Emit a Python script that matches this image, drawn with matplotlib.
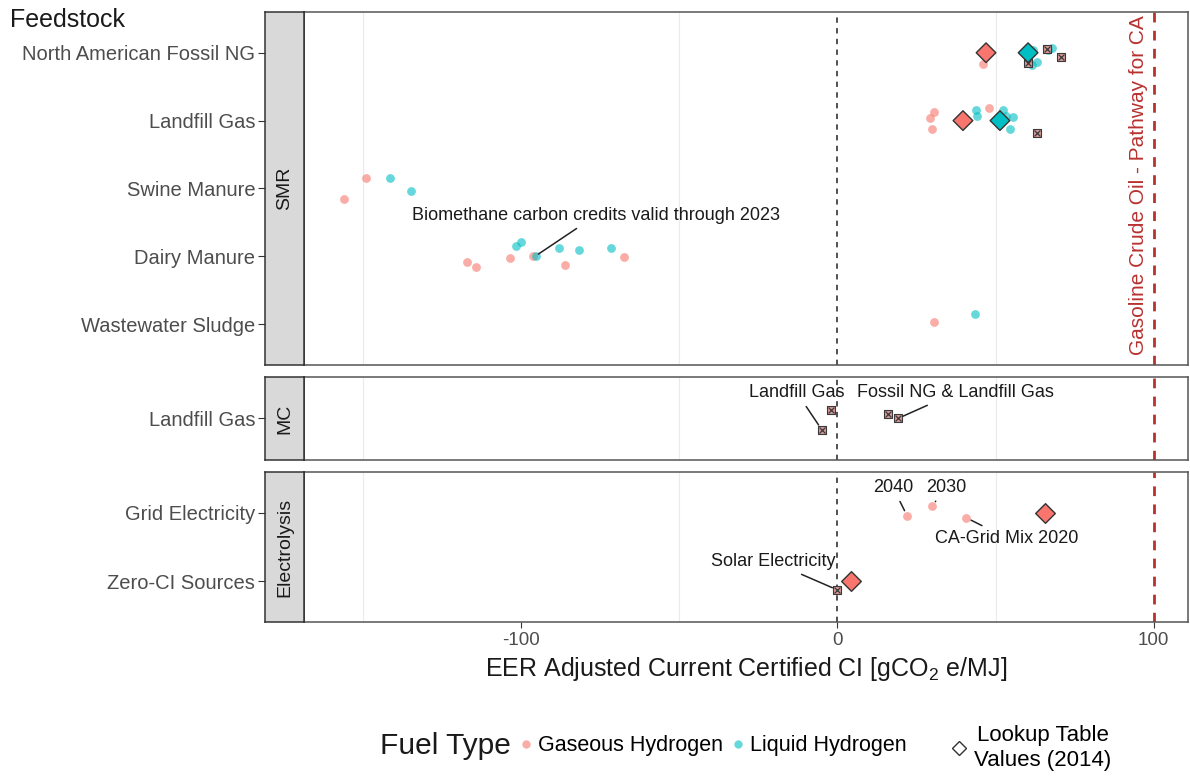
import matplotlib
matplotlib.use("Agg")
import matplotlib.pyplot as plt
from matplotlib.lines import Line2D

plt.rcParams['font.family'] = ['Liberation Sans', 'DejaVu Sans']
plt.rcParams['mathtext.fontset'] = 'custom'
plt.rcParams['mathtext.rm'] = 'Liberation Sans'
plt.rcParams['mathtext.it'] = 'Liberation Sans:italic'
plt.rcParams['axes.unicode_minus'] = False

PINK = '#F8766D'
CYAN = '#00BFC4'
RED_LINE = '#B8312F'

# categories of each facet (top to bottom)
smr_feed = ["North American Fossil NG", "Landfill Gas", "Swine Manure",
            "Dairy Manure", "Wastewater Sludge"]
mc_feed = ["Landfill Gas"]
elec_feed = ["Grid Electricity", "Zero-CI Sources"]

# certified pathways, gaseous hydrogen
gas_smr_feed = ["North American Fossil NG", "Landfill Gas", "Landfill Gas", "Landfill Gas",
                "Landfill Gas", "Swine Manure", "Swine Manure", "Dairy Manure",
                "Dairy Manure", "Dairy Manure", "Dairy Manure", "Dairy Manure",
                "Dairy Manure", "Wastewater Sludge"]
gas_smr_ci = [46.0, 29.3, 30.5, 29.9, 47.9, -156.2, -149.2, -117.2,
              -114.4, -103.6, -96.4, -86.2, -67.6, 30.5]
gas_elec_feed = ["Grid Electricity", "Grid Electricity", "Grid Electricity"]
gas_elec_ci = [22.0, 29.9, 40.7]

# certified pathways, liquid hydrogen
liq_smr_feed = ["North American Fossil NG"] * 6 + ["Landfill Gas"] * 7 + \
               ["Swine Manure"] * 2 + ["Dairy Manure"] * 6 + ["Wastewater Sludge"]
liq_smr_ci = [61.7, 63.1, 61.6, 67.9, 66.6, 60.0,
              43.8, 44.1, 52.4, 55.5, 54.6, 50.5, 53.3,
              -141.6, -135.0,
              -101.7, -100.2, -95.4, -88.1, -81.8, -71.7,
              43.5]

# lookup table values (2014)
lut_smr_feed = ["North American Fossil NG", "North American Fossil NG", "Landfill Gas", "Landfill Gas"]
lut_smr_fuel = ["Gaseous", "Liquid", "Gaseous", "Liquid"]
lut_smr_ci = [47.0, 60.3, 39.7, 51.4]
lut_elec_feed = ["Grid Electricity", "Zero-CI Sources"]
lut_elec_ci = [65.7, 4.2]

# other pathways (square markers)
oth_smr_feed = ["North American Fossil NG"] * 3 + ["Landfill Gas"]
oth_smr_ci = [66.2, 70.7, 60.3, 63.1]
oth_mc_feed = ["Landfill Gas"] * 4
oth_mc_ci = [-2.1, -5.0, 16.0, 19.1]
oth_elec_feed = ["Zero-CI Sources"]
oth_elec_ci = [0.0]

gasoline_ci = 100.3

# vertical jitter used when the points were drawn
gas_smr_jit = [0.16, -0.04, -0.12, 0.12, -0.19, 0.15, -0.15, 0.09,
               0.15, 0.03, 0.0, 0.13, 0.01, -0.03]
gas_elec_jit = [0.04, -0.10, 0.07]
liq_smr_jit = [-0.04, 0.13, 0.18, -0.07, -0.04, 0.03,
               -0.15, -0.07, -0.16, -0.06, 0.13, 0.01, -0.07,
               -0.15, 0.04,
               -0.15, -0.21, -0.01, -0.13, -0.10, -0.12,
               -0.15]
oth_smr_jit = [-0.06, 0.06, 0.15, 0.18]
oth_mc_jit = [-0.12, 0.16, -0.06, 0.0]
oth_elec_jit = [0.13]

W, H = 1190, 778
fig = plt.figure(figsize=(W / 100, H / 100), dpi=100)

px0, px1, sx0 = 304, 1188, 265
rows = [("SMR", smr_feed, 12, 365), ("MC", mc_feed, 377, 460),
        ("Electrolysis", elec_feed, 472, 622)]
axes = {}
for name, cats, top, bot in rows:
    ax = fig.add_axes([px0 / W, 1 - bot / H, (px1 - px0) / W, (bot - top) / H])
    st = fig.add_axes([sx0 / W, 1 - bot / H, (px0 - sx0) / W, (bot - top) / H])
    ax.set_xlim(-168.8, 110.9)
    ax.set_ylim(len(cats) - 0.4, -0.6)
    st.set_ylim(len(cats) - 0.4, -0.6)
    for v in [-150, -50, 50]:
        ax.axvline(v, color='#EBEBEB', lw=0.8, zorder=0)
    ax.axvline(0, color='#222222', lw=1.1, ls=(0, (3.5, 3.5)), zorder=1)
    ax.axvline(gasoline_ci, color=RED_LINE, lw=2, ls=(0, (3.5, 3)), zorder=1)
    ax.set_yticks([])
    ax.set_xticks([-100, 0, 100])
    ax.tick_params(axis='x', length=4, color='#333333', labelsize=13.5, labelcolor='#4D4D4D')
    if name != "Electrolysis":
        ax.tick_params(axis='x', length=0, labelbottom=False)
    for sp in ax.spines.values():
        sp.set_color('#555555')
        sp.set_linewidth(1.1)
    ax.spines['left'].set_color('#222222')
    st.set_facecolor('#D9D9D9')
    st.set_xticks([])
    st.set_yticks(range(len(cats)))
    st.set_yticklabels(cats)
    st.tick_params(axis='y', length=5, color='#333333', labelsize=14.5, labelcolor='#4D4D4D', pad=2)
    for sp in st.spines.values():
        sp.set_color('#333333')
        sp.set_linewidth(1.1)
    st.text(0.5, 0.5, name, rotation=90, ha='center', va='center', transform=st.transAxes,
            fontsize=14, color='#1A1A1A')
    axes[name] = ax


def ypos(cats, feeds, jit):
    return [cats.index(f) + j for f, j in zip(feeds, jit)]


def other_marks(ax, x, y):
    ax.scatter(x, y, marker='s', s=30, facecolor='#D89A98', edgecolor='#3A3A3A', lw=0.8, zorder=4)
    ax.scatter(x, y, marker='x', s=18, color='#3A3A3A', lw=0.9, zorder=5)


lab_kw = dict(ha='center', va='center', fontsize=13, color='#1A1A1A')
arr_kw = dict(arrowstyle='-', color='#222222', lw=1.1, shrinkA=2, shrinkB=4)

ax = axes["SMR"]
ax.scatter(gas_smr_ci, ypos(smr_feed, gas_smr_feed, gas_smr_jit), s=40, color=PINK,
           alpha=0.6, lw=0, zorder=2)
ax.scatter(liq_smr_ci, ypos(smr_feed, liq_smr_feed, liq_smr_jit), s=40, color=CYAN,
           alpha=0.6, lw=0, zorder=2)
other_marks(ax, oth_smr_ci, ypos(smr_feed, oth_smr_feed, oth_smr_jit))
ax.scatter(lut_smr_ci, [smr_feed.index(f) for f in lut_smr_feed], marker='D', s=100,
           c=[PINK if f == "Gaseous" else CYAN for f in lut_smr_fuel],
           edgecolor='#333333', lw=1, zorder=6)
ax.text(gasoline_ci - 5, 1.95, "Gasoline Crude Oil - Pathway for CA", rotation=90,
        ha='center', va='center', color=RED_LINE, fontsize=15)
ax.annotate("Biomethane carbon credits valid through 2023",
            xy=(liq_smr_ci[17], smr_feed.index("Dairy Manure") + liq_smr_jit[17]),
            xytext=(-76.5, 2.4), arrowprops=dict(arr_kw, shrinkB=2), **lab_kw)

ax = axes["MC"]
mc_y = ypos(mc_feed, oth_mc_feed, oth_mc_jit)
other_marks(ax, oth_mc_ci, mc_y)
ax.annotate("Landfill Gas", xy=(oth_mc_ci[1], mc_y[1]), xytext=(-12.8, -0.37),
            arrowprops=arr_kw, **lab_kw)
ax.annotate("Fossil NG & Landfill Gas", xy=(oth_mc_ci[3], mc_y[3]), xytext=(37.2, -0.37),
            arrowprops=dict(arr_kw, shrinkB=2), **lab_kw)

ax = axes["Electrolysis"]
ge_y = ypos(elec_feed, gas_elec_feed, gas_elec_jit)
ax.scatter(gas_elec_ci, ge_y, s=40, color=PINK, alpha=0.6, lw=0, zorder=2)
oe_y = ypos(elec_feed, oth_elec_feed, oth_elec_jit)
other_marks(ax, oth_elec_ci, oe_y)
ax.scatter(lut_elec_ci, [elec_feed.index(f) for f in lut_elec_feed], marker='D', s=100,
           color=PINK, edgecolor='#333333', lw=1, zorder=6)
grid_labels = ["2040", "2030", "CA-Grid Mix 2020"]
grid_text_pos = [(17.6, -0.37), (34.3, -0.37), (53.6, 0.37)]
for lab, xi, yi, tp in zip(grid_labels, gas_elec_ci, ge_y, grid_text_pos):
    ax.annotate(lab, xy=(xi, yi), xytext=tp, arrowprops=arr_kw, **lab_kw)
ax.annotate("Solar Electricity", xy=(oth_elec_ci[0], oe_y[0]), xytext=(-20.4, 1 - 0.28),
            arrowprops=arr_kw, **lab_kw)
ax.set_xlabel("EER Adjusted Current Certified CI [gCO$_2$ e/MJ]", fontsize=18,
              color='#1A1A1A', labelpad=4)

fig.text(10 / W, 1 - 20 / H, "Feedstock", fontsize=18, color='#1A1A1A', va='center')

# legend
fig.text(380 / W, 1 - 746 / H, "Fuel Type", fontsize=21.5, color='#1A1A1A', va='center')
h_fuel = [Line2D([], [], ls='', marker='o', ms=6, color=PINK, alpha=0.6, mew=0),
          Line2D([], [], ls='', marker='o', ms=6, color=CYAN, alpha=0.6, mew=0)]
fig.legend(h_fuel, ["Gaseous Hydrogen", "Liquid Hydrogen"], loc='center left',
           bbox_to_anchor=(520 / W, 1 - 746 / H), ncol=2, frameon=False, fontsize=15.5,
           handlelength=0.6, handletextpad=0.25, columnspacing=0.4, borderpad=0,
           borderaxespad=0)
h_lut = [Line2D([], [], ls='', marker='D', ms=7, mfc='none', mec='#333333', mew=1)]
leg = fig.legend(h_lut, ["Lookup Table\nValues (2014)"], loc='center left',
                 bbox_to_anchor=(950 / W, 1 - 748 / H), frameon=False, fontsize=16,
                 handlelength=0.8, handletextpad=0.3, borderpad=0, labelspacing=0,
                 borderaxespad=0)
for t in leg.get_texts():
    t.set_multialignment('center')

fig.savefig("out.png", dpi=100)
